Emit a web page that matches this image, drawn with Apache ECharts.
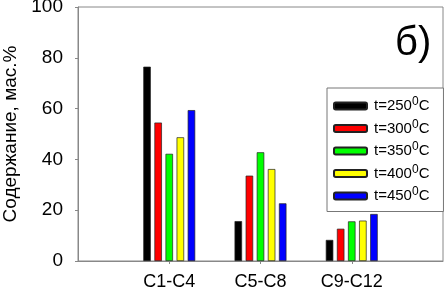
<!DOCTYPE html>
<html>
<head>
<meta charset="utf-8">
<script src="https://cdn.jsdelivr.net/npm/echarts@6/dist/echarts.min.js"></script>
<style>
  html, body { margin: 0; padding: 0; background: #fff; }
  #chart { width: 445px; height: 290px; }
</style>
</head>
<body>
<div id="chart"></div>
<script>
// блоки фракций (пустые по краям, чтобы группы стояли на 1,2,3 из 0..4)
const categories = ['', 'C1-C4', 'C5-C8', 'C9-C12', '']
const temps = ['250', '300', '350', '400', '450']
const colors = ['#000000', '#ff0000', '#00ff00', '#ffff00', '#0000ff']
// содержание, мас.%
const t250 = [null, 76.5, 15.7, 8.3, null]
const t300 = [null, 54.5, 33.6, 12.7, null]
const t350 = [null, 42.2, 42.8, 15.6, null]
const t400 = [null, 48.7, 36.2, 15.9, null]
const t450 = [null, 59.4, 22.7, 18.5, null]
const yTicks = [0, 20, 40, 60, 80, 100]

const values = [t250, t300, t350, t400, t450]
const font = 'Liberation Sans, Arial, sans-serif'

const chart = echarts.init(document.getElementById('chart'))
const options = {
  animation: false,
  title: {
    text: 'б)',
    left: 390,
    top: 19,
    textStyle: { fontFamily: font, fontSize: 40, fontWeight: 'normal', color: '#000' }
  },
  legend: {
    orient: 'vertical',
    left: 327,
    top: 88,
    padding: [8, 14, 8, 6],
    backgroundColor: '#fff',
    borderColor: '#777',
    borderWidth: 1,
    itemWidth: 33,
    itemHeight: 7,
    itemGap: 5,
    data: temps.map(t => 't=' + t),
    formatter: name => name + '{s|0}C',
    textStyle: {
      fontFamily: font,
      fontSize: 15,
      color: '#000',
      padding: [0, 0, 0, 2],
      rich: {
        s: { fontFamily: font, fontSize: 12, verticalAlign: 'top', padding: [0, 0, 8, 0] }
      }
    }
  },
  grid: {
    left: 78,
    right: 2,
    top: 7,
    bottom: 29,
    containLabel: false,
    outerBoundsMode: 'none',
    show: true,
    borderColor: '#888',
    borderWidth: 1
  },
  xAxis: {
    type: 'category',
    data: categories,
    boundaryGap: false,
    axisLine: { lineStyle: { color: '#888', width: 1 } },
    axisTick: {
      length: 3,
      interval: (i, v) => v !== '',
      lineStyle: { color: '#888' }
    },
    axisLabel: {
      interval: 0,
      fontFamily: font,
      fontSize: 18,
      color: '#000',
      margin: 12
    }
  },
  yAxis: {
    type: 'value',
    min: yTicks[0],
    max: yTicks[yTicks.length - 1],
    interval: 20,
    name: 'Содержание, мас.%',
    nameLocation: 'middle',
    nameGap: 57,
    nameTextStyle: { fontFamily: font, fontSize: 19, color: '#000' },
    splitLine: { show: false },
    axisLine: { show: true, lineStyle: { color: '#888', width: 1 } },
    axisTick: { show: true, length: 3, lineStyle: { color: '#888' } },
    axisLabel: { fontFamily: font, fontSize: 19, color: '#000', margin: 15 }
  },
  series: values.map((arr, i) => ({
    name: 't=' + temps[i],
    type: 'bar',
    data: arr,
    barWidth: 7.5,
    barGap: '48%',
    itemStyle: { color: colors[i], borderColor: '#222', borderWidth: 0.7 }
  }))
}
chart.setOption(options, true)
</script>
</body>
</html>
